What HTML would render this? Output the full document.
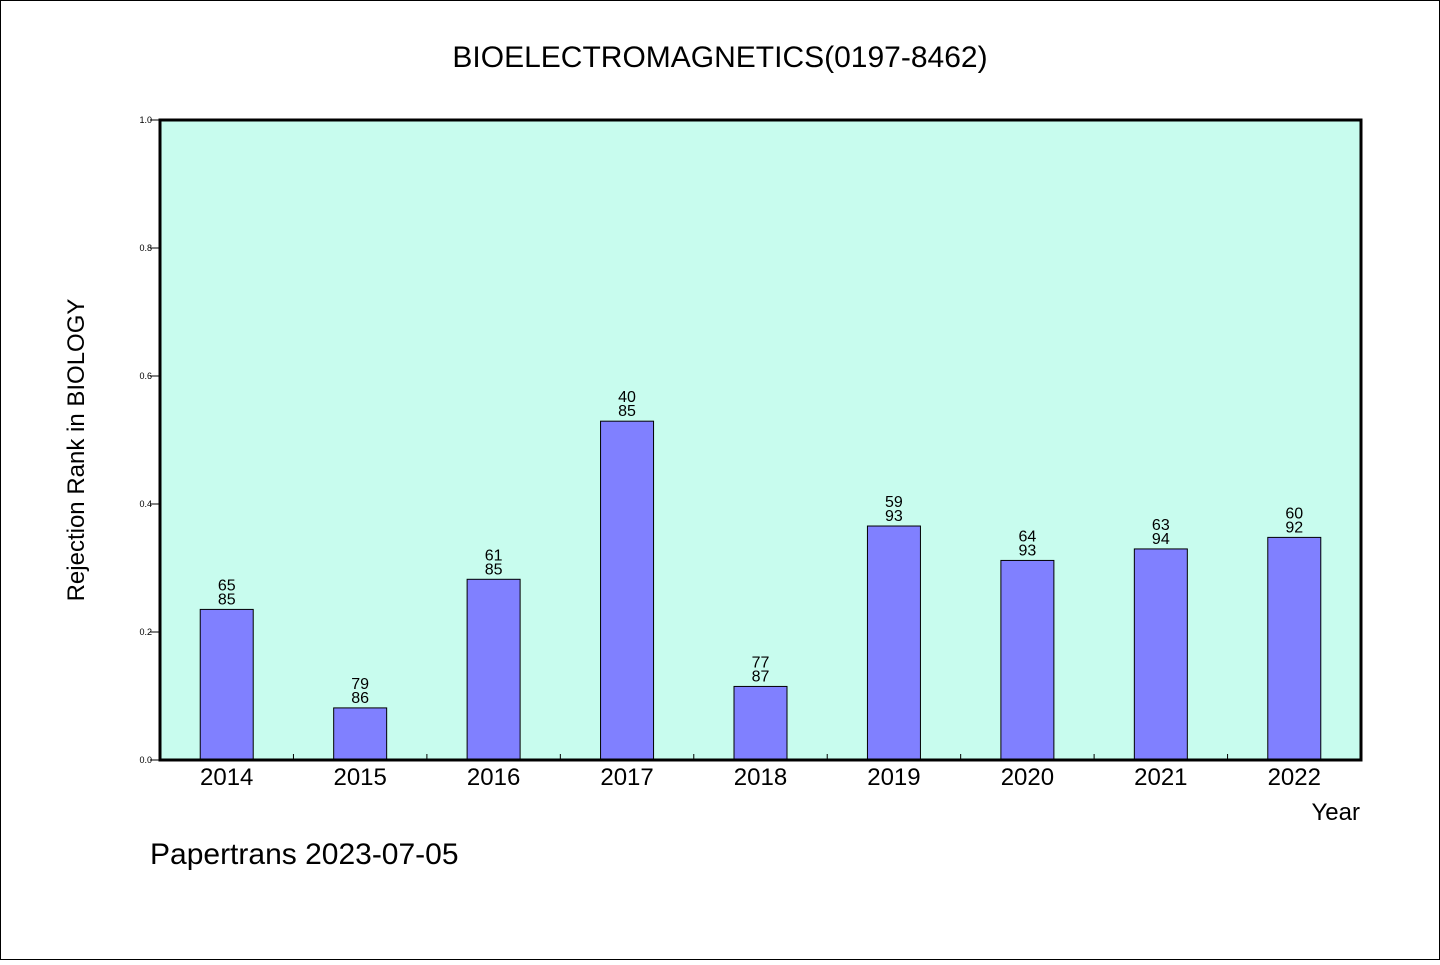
<!DOCTYPE html>
<html><head><meta charset="utf-8"><style>
body{margin:0;background:#fff}
svg text{font-family:"WenQuanYi Zen Hei","Liberation Sans",sans-serif;fill:#000}
</style></head><body>
<svg id="chart" width="1440" height="960" xmlns="http://www.w3.org/2000/svg">
<rect x="0.5" y="0.5" width="1439" height="959" fill="#fff" stroke="#000"/>
<text x="720" y="67" font-size="30" text-anchor="middle">BIOELECTROMAGNETICS(0197-8462)</text>
<rect x="160" y="120" width="1201" height="640" fill="#c8fcee"/>
<g id="bars"></g>
<rect x="160" y="120" width="1201" height="640" fill="none" stroke="#000" stroke-width="3"/>
<text transform="translate(84,450) rotate(-90)" font-size="24" text-anchor="middle">Rejection Rank in BIOLOGY</text>
<text x="1360" y="820" font-size="24" text-anchor="end">Year</text>
<text x="150" y="864" font-size="30">Papertrans 2023-07-05</text>
</svg>
<script>
const years=["2014","2015","2016","2017","2018","2019","2020","2021","2022"];
const ranks=[65,79,61,40,77,59,64,63,60];
const totals=[85,86,85,85,87,93,93,94,92];
const yTicks=[0,0.2,0.4,0.6,0.8,1.0];
const X0=160,W=1201,Y0=760,H=640;
const ns="http://www.w3.org/2000/svg";
const g=document.getElementById('bars');
const slot=W/years.length;
const yS=v=>Y0-v*H;
function mk(t,a){const e=document.createElementNS(ns,t);for(const k in a)e.setAttribute(k,a[k]);return e;}
yTicks.forEach(v=>{
  const l=mk('line',{x1:X0-10,x2:X0,y1:yS(v),y2:yS(v),stroke:'#000'});
  
  
  g.appendChild(l);
  const t=mk('text',{x:X0-8,y:yS(v)+3,'font-size':9,'text-anchor':'end'});
  t.textContent=v.toFixed(1);
  
  
  g.appendChild(t);
});
years.forEach((yr,i)=>{
  const v=1-ranks[i]/totals[i];
  const cx=X0+slot*(i+0.5);
  const r=mk('rect',{x:cx-26.5,y:yS(v),width:53,height:Y0-yS(v),fill:'#8080ff',stroke:'#000'});
  
  
  g.appendChild(r);
  const t1=mk('text',{x:cx,y:yS(v)-19,'font-size':16,'text-anchor':'middle'});
  t1.textContent=ranks[i];
  
  
  g.appendChild(t1);
  const t2=mk('text',{x:cx,y:yS(v)-5,'font-size':16,'text-anchor':'middle'});
  t2.textContent=totals[i];
  
  
  g.appendChild(t2);
  const xl=mk('text',{x:cx,y:785,'font-size':24,'text-anchor':'middle'});
  xl.textContent=yr;
  
  
  g.appendChild(xl);
  if(i>0){
    const tk=mk('line',{x1:X0+slot*i,x2:X0+slot*i,y1:Y0,y2:Y0-6,stroke:'#000'});
    
    
    g.appendChild(tk);
  }
});
</script>
</body></html>
